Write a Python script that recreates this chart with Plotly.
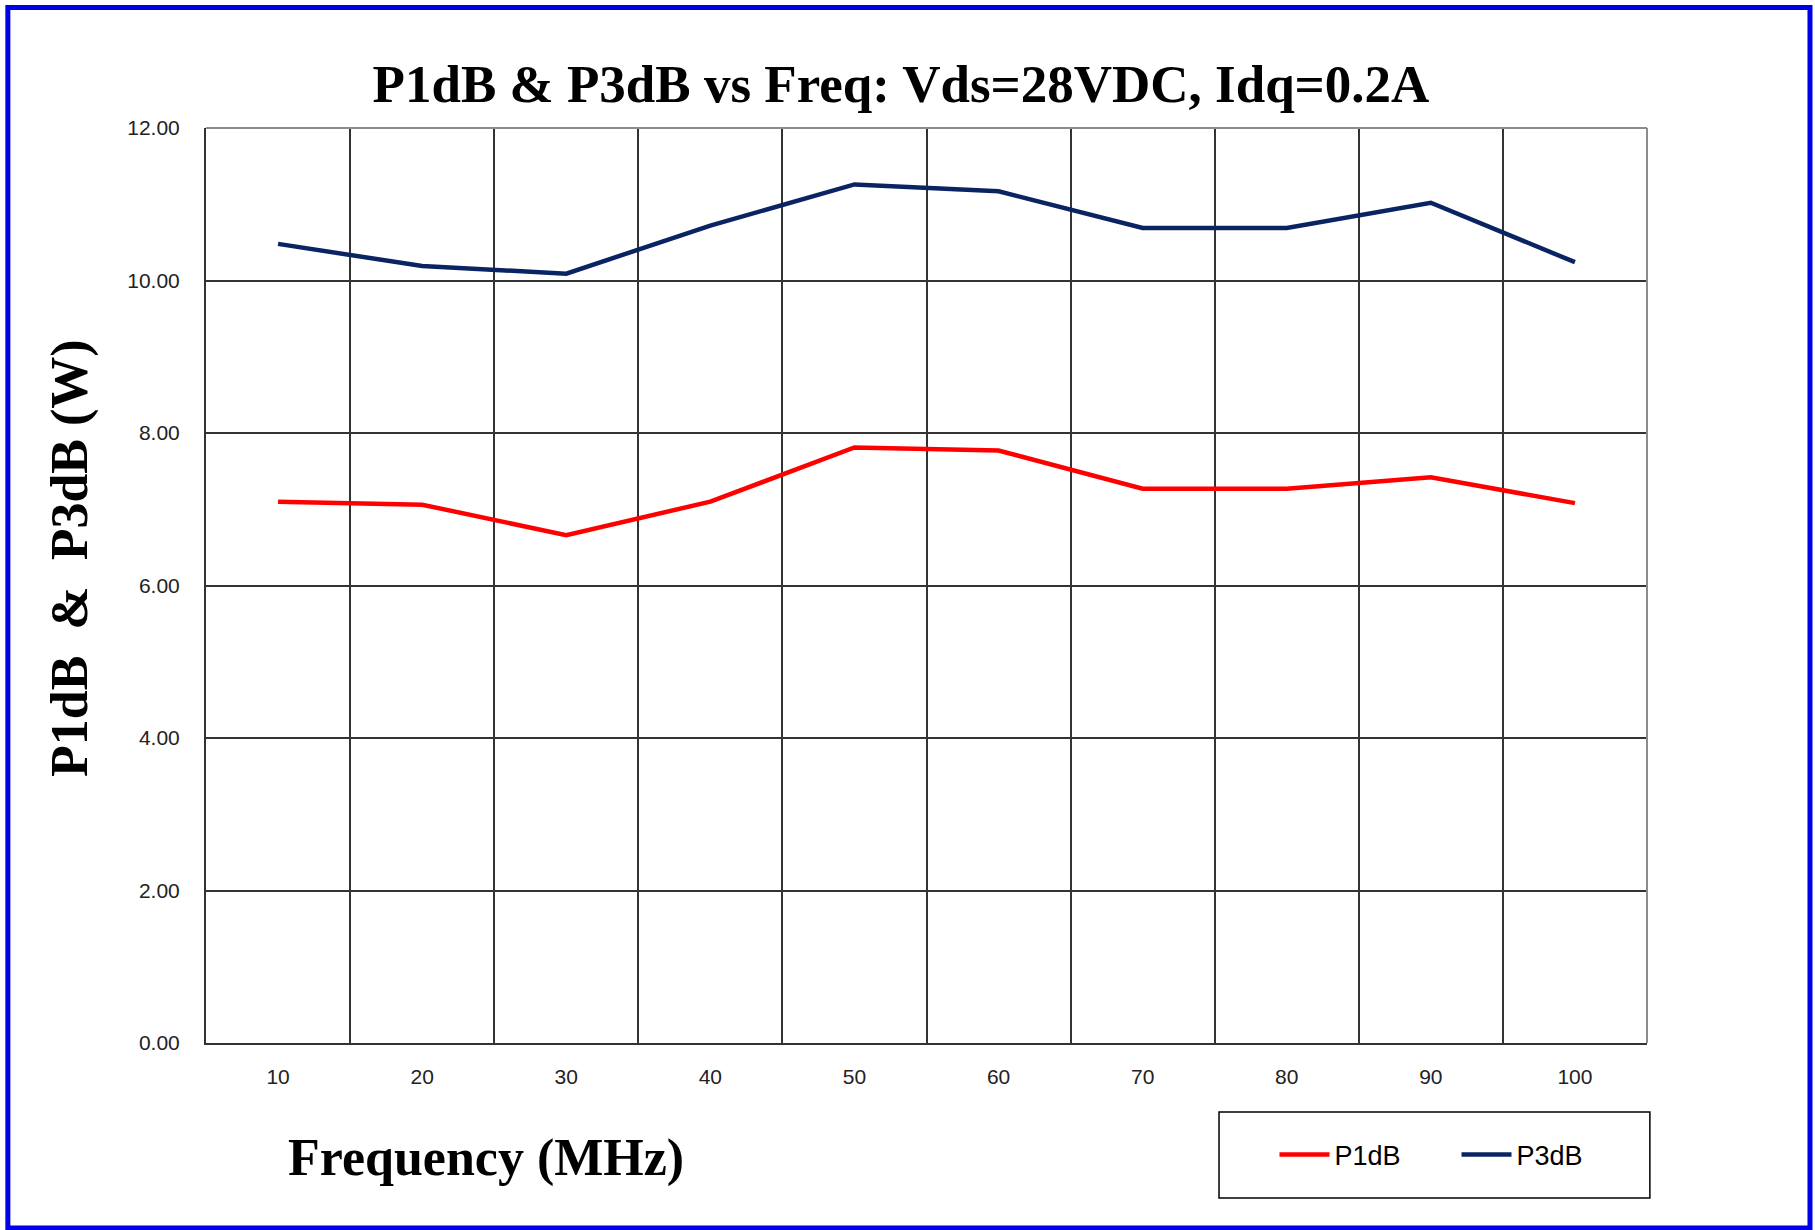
import plotly.graph_objects as go

freq = ["10", "20", "30", "40", "50", "60", "70", "80", "90", "100"]
p1db = [7.10, 7.06, 6.66, 7.10, 7.81, 7.77, 7.27, 7.27, 7.42, 7.08]
p3db = [10.48, 10.19, 10.09, 10.72, 11.26, 11.17, 10.69, 10.69, 11.02, 10.24]
y_ticks = [0, 2, 4, 6, 8, 10, 12]

RED = "#FF0000"
NAVY = "#0A2463"
GRID = "#333333"
SERIF = "Liberation Serif, Times New Roman, serif"
SANS = "Liberation Sans, Arial, sans-serif"

fig = go.Figure()
fig.add_scatter(x=freq, y=p1db, mode="lines", name="P1dB", line={"color": RED, "width": 4.5})
fig.add_scatter(x=freq, y=p3db, mode="lines", name="P3dB", line={"color": NAVY, "width": 4.5})

fig.update_layout(
    width=1815,
    height=1230,
    margin={"l": 206, "r": 168, "t": 128, "b": 187},
    paper_bgcolor="white",
    plot_bgcolor="white",
    title={
        "text": "<b>P1dB & P3dB vs Freq: Vds=28VDC, Idq=0.2A</b>",
        "font": {"family": SERIF, "size": 53, "color": "black"},
        "xref": "container",
        "x": 0.4964,
        "xanchor": "center",
        "y": 0.932,
        "yanchor": "middle",
    },
    showlegend=True,
    legend={
        "orientation": "h",
        "x": 0.7415,
        "xanchor": "left",
        "y": -0.1224,
        "yanchor": "middle",
        "bgcolor": "rgba(0,0,0,0)",
        "borderwidth": 0,
        "itemwidth": 50,
        "entrywidth": 117,
        "font": {"family": SANS, "size": 27, "color": "black"},
    },
)

fig.update_xaxes(
    type="category",
    range=[-0.5, 9.5],
    tickson="boundaries",
    ticks="",
    showgrid=True,
    gridcolor=GRID,
    gridwidth=1.5,
    showline=True,
    linecolor=GRID,
    linewidth=2,
    tickfont={"family": SANS, "size": 21, "color": "#222222"},
    ticklabelstandoff=14,
)
fig.update_yaxes(
    range=[0, 12],
    tickvals=y_ticks,
    tickformat=".2f",
    ticks="",
    showgrid=True,
    gridcolor=GRID,
    gridwidth=1.5,
    zeroline=False,
    showline=True,
    linecolor=GRID,
    linewidth=2,
    tickfont={"family": SANS, "size": 21, "color": "#222222"},
    ticklabelstandoff=20,
)

# gray plot-area frame on top/right, like the original chart
fig.add_shape(type="line", xref="paper", yref="paper", x0=0, x1=1, y0=1, y1=1,
              line={"color": "#8C8C8C", "width": 2})
fig.add_shape(type="line", xref="paper", yref="paper", x0=1, x1=1, y0=0, y1=1,
              line={"color": "#8C8C8C", "width": 2})

# legend frame
fig.add_shape(type="rect", xref="paper", yref="paper", x0=0.703, x1=1.002, y0=-0.1694, y1=-0.0754,
              line={"color": "black", "width": 1.5})

# blue outer border
fig.add_shape(type="rect", xref="paper", yref="paper", x0=-0.1375, x1=1.1131, y0=-0.2022, y1=1.1317,
              line={"color": "#0000E6", "width": 5})

fig.add_annotation(text="<b>Frequency (MHz)</b>", xref="paper", yref="paper", x=0.1943, y=-0.1257,
                   xanchor="center", yanchor="middle", showarrow=False,
                   font={"family": SERIF, "size": 52, "color": "black"})
fig.add_annotation(text="<b>P1dB  &  P3dB (W)</b>", xref="paper", yref="paper", x=-0.0944, y=0.530,
                   xanchor="center", yanchor="middle", textangle=-90, showarrow=False,
                   font={"family": SERIF, "size": 52, "color": "black"})

# drop the default 8px page margin so the figure sits at the window origin
fig.write_html(
    "out.html",
    config={"displayModeBar": False},
    post_script="document.body.style.margin='0';",
)
